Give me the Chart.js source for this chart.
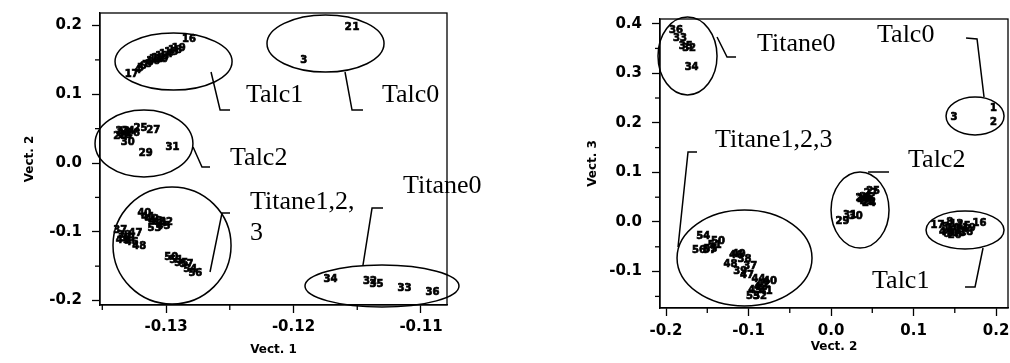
<!DOCTYPE html>
<html>
<head>
<meta charset="utf-8">
<script src="https://cdn.jsdelivr.net/npm/chart.js@4.4.0/dist/chart.umd.min.js"></script>
<style>
  body { margin: 0; background: #fff; }
  canvas { position: absolute; top: 0; }
  #left { left: 0; }
  #right { left: 505px; }
</style>
</head>
<body>
<canvas id="left" width="505" height="363"></canvas>
<canvas id="right" width="505" height="363"></canvas>
<script>
// sample numbers and their scores on the three vectors
const pointIds = [1, 2, 3, 4, 5, 6, 7, 8, 9, 10, 11, 12, 13, 14, 15, 16, 17, 18, 19, 20,
  21, 22, 23, 24, 25, 26, 27, 28, 29, 30, 31, 32, 33, 34, 35, 36, 37, 38, 39, 40,
  41, 42, 43, 44, 45, 46, 47, 48, 49, 50, 51, 52, 53, 54, 55, 56, 57];
const vect1 = [-0.1151, -0.1157, -0.1192, -0.1322, -0.1320, -0.1318, -0.1316, -0.1314, -0.1312, -0.1310,
  -0.1308, -0.1306, -0.1303, -0.1300, -0.1296, -0.1282, -0.1327, -0.1293, -0.1290, -0.1304,
  -0.1333, -0.1334, -0.1332, -0.1330, -0.1320, -0.1326, -0.1310, -0.1336, -0.1316, -0.1330,
  -0.1295, -0.1140, -0.1113, -0.1171, -0.1135, -0.1091, -0.1336, -0.1333, -0.1330, -0.1317,
  -0.1314, -0.1311, -0.1308, -0.1305, -0.1302, -0.1327, -0.1324, -0.1321, -0.1334, -0.1296,
  -0.1292, -0.1300, -0.1309, -0.1281, -0.1288, -0.1277, -0.1284];
const vect2 = [0.197, 0.197, 0.149, 0.135, 0.138, 0.140, 0.142, 0.144, 0.146, 0.148,
  0.150, 0.152, 0.155, 0.158, 0.161, 0.180, 0.129, 0.164, 0.167, 0.150,
  0.043, 0.046, 0.040, 0.046, 0.051, 0.043, 0.048, 0.038, 0.014, 0.030,
  0.023, -0.172, -0.183, -0.169, -0.176, -0.188, -0.098, -0.105, -0.110, -0.074,
  -0.079, -0.082, -0.085, -0.088, -0.092, -0.115, -0.102, -0.122, -0.112, -0.137,
  -0.141, -0.086, -0.0945, -0.155, -0.146, -0.160, -0.147];
const vect3 = [0.230, 0.200, 0.210, -0.020, -0.010, -0.025, -0.015, 0.000, -0.022, -0.012,
  -0.018, -0.005, -0.024, -0.014, -0.008, -0.002, -0.006, -0.020, -0.012, -0.028,
  0.042, 0.040, 0.045, 0.038, 0.062, 0.050, 0.058, 0.048, 0.002, 0.012,
  0.014, 0.350, 0.370, 0.311, 0.355, 0.386, -0.090, -0.075, -0.100, -0.120,
  -0.140, -0.125, -0.132, -0.115, -0.138, -0.068, -0.108, -0.085, -0.066, -0.040,
  -0.048, -0.150, -0.150, -0.030, -0.055, -0.058, -0.058];

// axis ticks
const leftXTicks = [-0.13, -0.12, -0.11];
const leftXTickLabels = ['-0.13', '-0.12', '-0.11'];
const leftXMinor = [-0.135, -0.125, -0.115];
const leftYTicks = [0.2, 0.1, 0.0, -0.1, -0.2];
const leftYTickLabels = ['0.2', '0.1', '0.0', '-0.1', '-0.2'];
const leftYMinor = [0.15, 0.05, -0.05, -0.15];
const rightXTicks = [-0.2, -0.1, 0.0, 0.1, 0.2];
const rightXTickLabels = ['-0.2', '-0.1', '0.0', '0.1', '0.2'];
const rightXMinor = [-0.15, -0.05, 0.05, 0.15];
const rightYTicks = [0.4, 0.3, 0.2, 0.1, 0.0, -0.1];
const rightYTickLabels = ['0.4', '0.3', '0.2', '0.1', '0.0', '-0.1'];
const rightYMinor = [0.35, 0.25, 0.15, 0.05, -0.05, -0.15];

// group outlines, leader lines and names, in data units
const leftEllipses = [
  [-0.12941, 0.1476, 0.00459, 0.0415],
  [-0.11749, 0.1738, 0.00459, 0.0415],
  [-0.13173, 0.0284, 0.00384, 0.0487],
  [-0.12953, -0.1200, 0.00463, 0.0851],
  [-0.11306, -0.1789, 0.00604, 0.0305]
];
const leftLeaders = [
  [[-0.12647, 0.1324], [-0.12576, 0.0771], [-0.12498, 0.0771]],
  [[-0.11596, 0.1324], [-0.11541, 0.0771], [-0.11455, 0.0771]],
  [[-0.12788, 0.0233], [-0.12718, -0.0058], [-0.12655, -0.0058]],
  [[-0.12655, -0.1585], [-0.12561, -0.0727], [-0.12498, -0.0727]],
  [[-0.11455, -0.1484], [-0.11384, -0.0655], [-0.11298, -0.0655]]
];
const leftNotes = [
  ['Talc1', -0.12373, 0.0887],
  ['Talc0', -0.11306, 0.0887],
  ['Talc2', -0.12498, -0.0029],
  ['Titane1,2,', -0.12341, -0.0669],
  ['3', -0.12341, -0.1120],
  ['Titane0', -0.11141, -0.0436]
];
const rightEllipses = [
  [-0.17394, 0.3347, 0.03576, 0.0786],
  [-0.10485, -0.0726, 0.0818, 0.0968],
  [0.17455, 0.2137, 0.03515, 0.0383],
  [0.03515, 0.0242, 0.03515, 0.0766],
  [0.16242, -0.0161, 0.04727, 0.0383]
];
const rightLeaders = [
  [[-0.13818, 0.3730], [-0.12606, 0.3327], [-0.11515, 0.3327]],
  [[-0.16242, 0.1411], [-0.17333, 0.1411], [-0.18545, -0.0504]],
  [[0.16364, 0.3710], [0.17697, 0.3690], [0.18545, 0.2520]],
  [[0.04485, 0.1008], [0.07030, 0.1008]],
  [[0.18424, -0.0524], [0.17455, -0.1310], [0.16242, -0.1310]]
];
const rightNotes = [
  ['Titane0', -0.08970, 0.3448],
  ['Titane1,2,3', -0.14061, 0.1512],
  ['Talc0', 0.05576, 0.3629],
  ['Talc2', 0.09333, 0.1109],
  ['Talc1', 0.04970, -0.1331]
];

const pointLabels = {
  id: 'pointLabels',
  afterDatasetsDraw(chart) {
    const ctx = chart.ctx;
    ctx.save();
    ctx.fillStyle = '#000';
    ctx.strokeStyle = '#000';
    ctx.lineWidth = 0.7;
    ctx.font = 'bold 10px "DejaVu Sans"';
    ctx.textAlign = 'center';
    ctx.textBaseline = 'middle';
    chart.getDatasetMeta(0).data.forEach((el, i) => {
      ctx.fillText(String(pointIds[i]), el.x, el.y);
      ctx.strokeText(String(pointIds[i]), el.x, el.y);
    });
    ctx.restore();
  }
};

const overlay = {
  id: 'overlay',
  afterDraw(chart, args, opts) {
    const { ctx, chartArea: a } = chart;
    const xs = chart.scales.x, ys = chart.scales.y;
    const px = v => xs.getPixelForValue(v);
    const py = v => ys.getPixelForValue(v);
    ctx.save();
    ctx.strokeStyle = '#000';
    ctx.fillStyle = '#000';
    ctx.lineWidth = 1.3;
    ctx.strokeRect(a.left, a.top, a.right - a.left, a.bottom - a.top);

    opts.minorX.forEach(v => {
      ctx.beginPath();
      ctx.moveTo(px(v), a.bottom);
      ctx.lineTo(px(v), a.bottom + 5);
      ctx.stroke();
    });
    opts.minorY.forEach(v => {
      ctx.beginPath();
      ctx.moveTo(a.left, py(v));
      ctx.lineTo(a.left - 5, py(v));
      ctx.stroke();
    });

    ctx.lineWidth = 1.5;
    opts.ellipses.forEach(e => {
      const cx = px(e[0]), cy = py(e[1]);
      ctx.beginPath();
      ctx.ellipse(cx, cy, Math.abs(px(e[0] + e[2]) - cx), Math.abs(py(e[1] + e[3]) - cy), 0, 0, Math.PI * 2);
      ctx.stroke();
    });
    opts.leaders.forEach(line => {
      ctx.beginPath();
      line.forEach((p, i) => {
        if (i === 0) ctx.moveTo(px(p[0]), py(p[1]));
        else ctx.lineTo(px(p[0]), py(p[1]));
      });
      ctx.stroke();
    });

    ctx.font = '26px "Liberation Serif"';
    ctx.textAlign = 'left';
    ctx.textBaseline = 'alphabetic';
    opts.notes.forEach(n => ctx.fillText(n[0], px(n[1]), py(n[2])));
    ctx.restore();
  }
};

function axis(min, max, ticks, labels, title, size, titlePad, labelPad, horizontal) {
  return {
    type: 'linear',
    min: min,
    max: max,
    afterBuildTicks: s => { s.ticks = ticks.map(v => ({ value: v })); },
    afterFit: s => {
      if (horizontal) { s.height = size; s.paddingLeft = 0; s.paddingRight = 0; }
      else { s.width = size; s.paddingTop = 0; s.paddingBottom = 0; }
    },
    ticks: {
      callback: (v, i) => labels[i],
      color: '#000',
      font: { family: 'DejaVu Sans', weight: 'bold', size: 15 },
      padding: labelPad,
      maxRotation: 0,
      autoSkip: false
    },
    grid: { drawOnChartArea: false, drawTicks: true, tickLength: 8, tickColor: '#000', tickWidth: 1.3 },
    border: { display: true, color: '#000', width: 1.3 },
    title: {
      display: true,
      text: title,
      color: '#000',
      font: { family: 'DejaVu Sans', weight: 'bold', size: 12 },
      padding: titlePad
    }
  };
}

function makeChart(id, xs, ys, scales, padding, extra) {
  return new Chart(document.getElementById(id), {
    type: 'scatter',
    data: {
      datasets: [{
        data: xs.map((v, i) => ({ x: v, y: ys[i] })),
        pointRadius: 0,
        pointHoverRadius: 0
      }]
    },
    options: {
      responsive: false,
      animation: false,
      devicePixelRatio: 1,
      layout: { padding: padding },
      scales: scales,
      plugins: {
        legend: { display: false },
        tooltip: { enabled: false },
        overlay: extra
      }
    },
    plugins: [pointLabels, overlay]
  });
}

makeChart('left', vect1, vect2, {
  x: axis(-0.13518, -0.10796, leftXTicks, leftXTickLabels, 'Vect. 1', 58, { top: 0, bottom: 6 }, 5, true),
  y: axis(-0.2065, 0.2182, leftYTicks, leftYTickLabels, 'Vect. 2', 100, { top: 23, bottom: 0 }, 10, false)
}, { left: 0, right: 58, top: 13, bottom: 0 },
{ minorX: leftXMinor, minorY: leftYMinor, ellipses: leftEllipses, leaders: leftLeaders, notes: leftNotes });

makeChart('right', vect2, vect3, {
  x: axis(-0.2073, 0.2145, rightXTicks, rightXTickLabels, 'Vect. 2', 55, { top: 0, bottom: 9 }, 6, true),
  y: axis(-0.1734, 0.4093, rightYTicks, rightYTickLabels, 'Vect. 3', 155, { top: 81, bottom: 0 }, 10, false)
}, { left: 0, right: 2, top: 19, bottom: 0 },
{ minorX: rightXMinor, minorY: rightYMinor, ellipses: rightEllipses, leaders: rightLeaders, notes: rightNotes });
</script>
</body>
</html>
